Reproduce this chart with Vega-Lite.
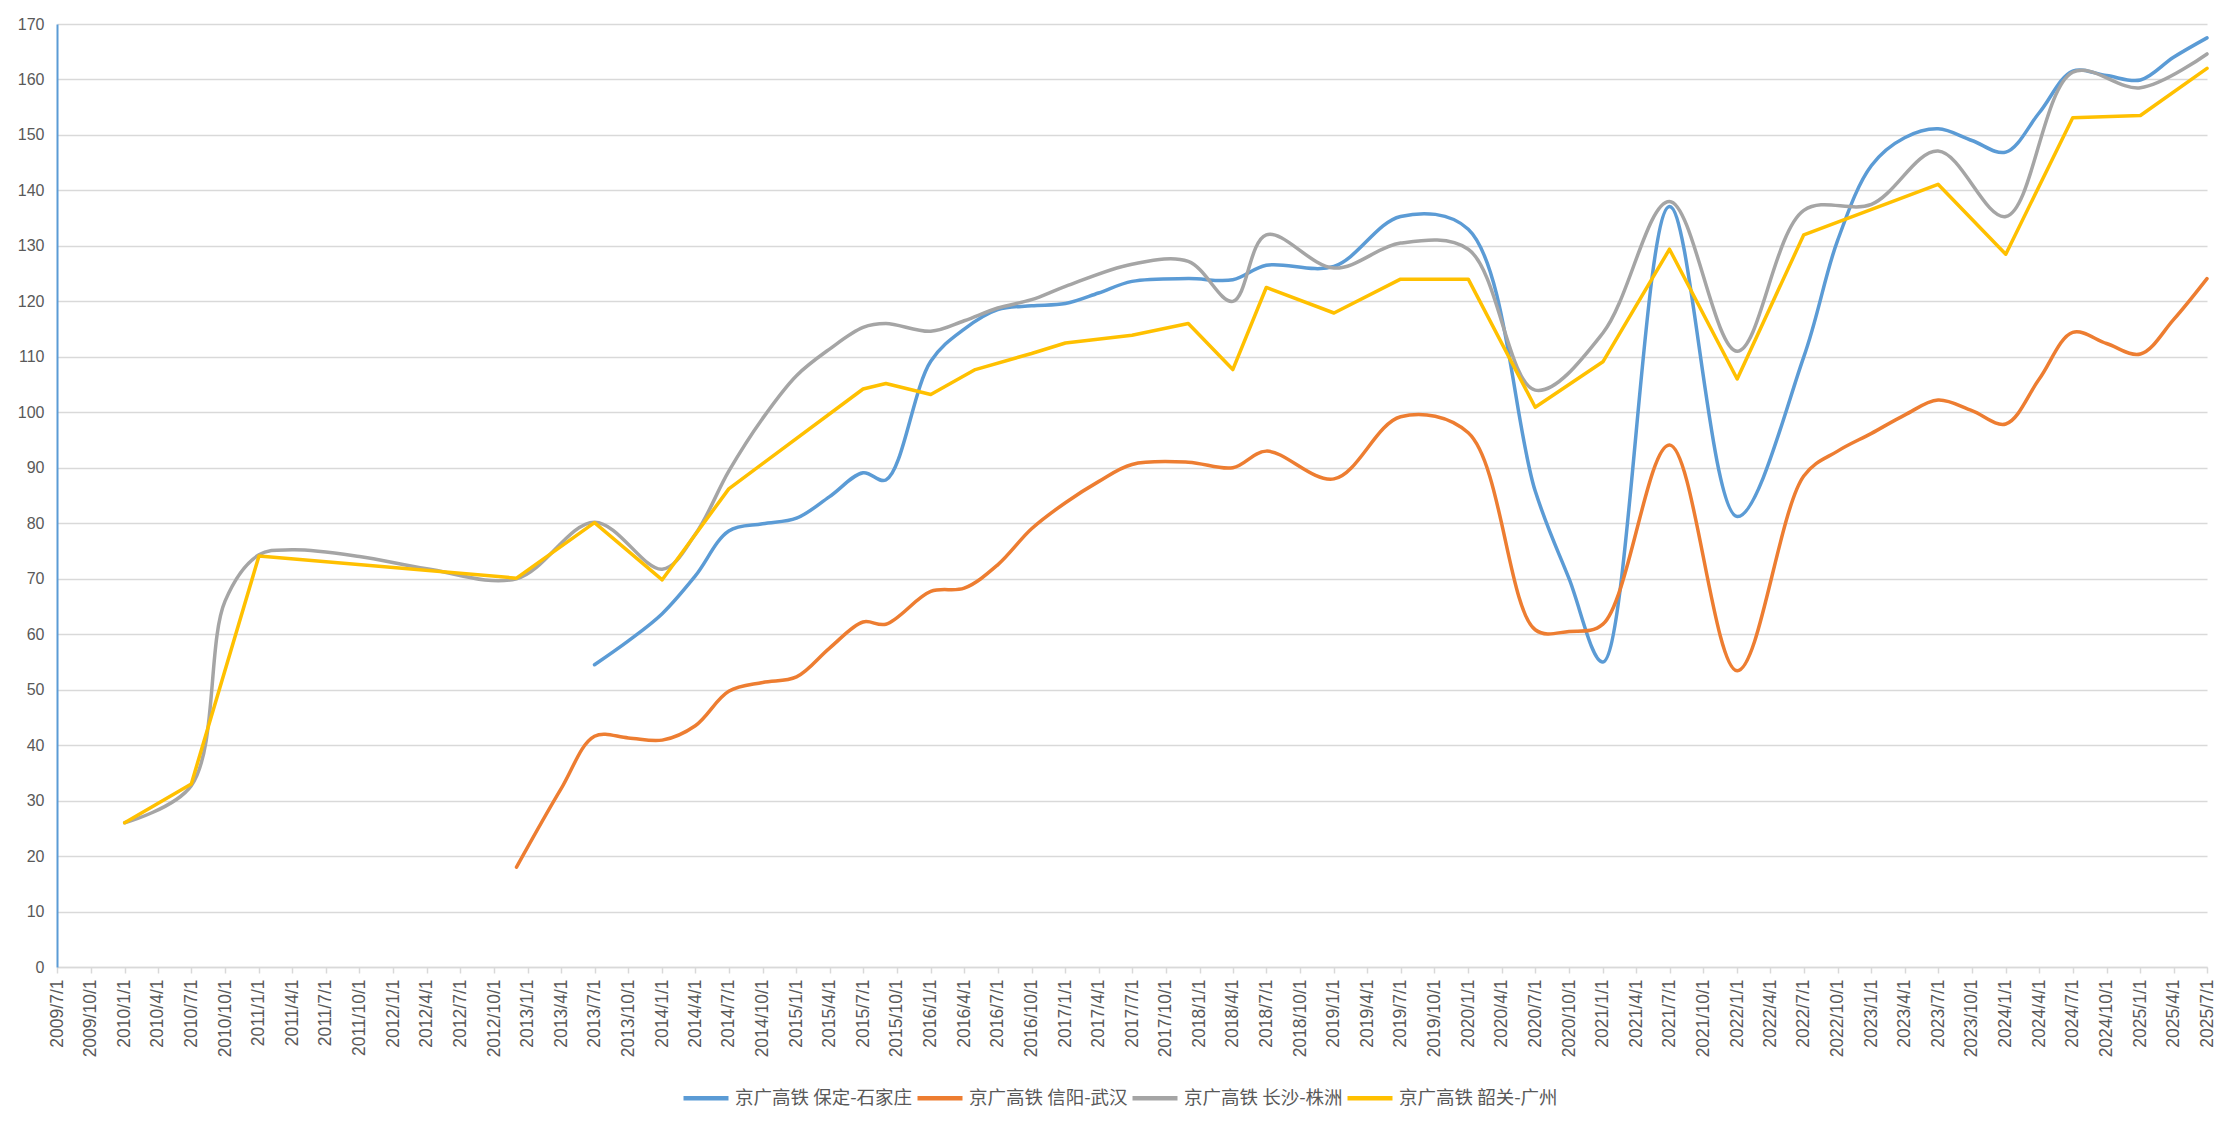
{
  "$schema": "https://vega.github.io/schema/vega-lite/v6.json",
  "width": 2150,
  "height": 943,
  "autosize": {"type": "none"},
  "padding": {"left": 57, "top": 24, "right": 29, "bottom": 162},
  "background": "white",
  "config": {"view": {"stroke": null}, "font": "Liberation Sans"},
  "data": {"values": [
    {"s": "京广高铁 保定-石家庄", "d": "2013/7/1", "v": 54.5},
    {"s": "京广高铁 保定-石家庄", "d": "2013/10/1", "v": 58.8},
    {"s": "京广高铁 保定-石家庄", "d": "2014/1/1", "v": 63.7},
    {"s": "京广高铁 保定-石家庄", "d": "2014/4/1", "v": 70.5},
    {"s": "京广高铁 保定-石家庄", "d": "2014/7/1", "v": 78.6},
    {"s": "京广高铁 保定-石家庄", "d": "2014/10/1", "v": 79.9},
    {"s": "京广高铁 保定-石家庄", "d": "2015/1/1", "v": 80.9},
    {"s": "京广高铁 保定-石家庄", "d": "2015/4/1", "v": 84.8},
    {"s": "京广高铁 保定-石家庄", "d": "2015/7/1", "v": 89.1},
    {"s": "京广高铁 保定-石家庄", "d": "2015/9/1", "v": 87.8},
    {"s": "京广高铁 保定-石家庄", "d": "2016/1/1", "v": 109.2},
    {"s": "京广高铁 保定-石家庄", "d": "2016/4/1", "v": 115.0},
    {"s": "京广高铁 保定-石家庄", "d": "2016/7/1", "v": 118.5},
    {"s": "京广高铁 保定-石家庄", "d": "2016/10/1", "v": 119.2},
    {"s": "京广高铁 保定-石家庄", "d": "2017/1/1", "v": 119.6},
    {"s": "京广高铁 保定-石家庄", "d": "2017/4/1", "v": 121.5},
    {"s": "京广高铁 保定-石家庄", "d": "2017/7/1", "v": 123.6},
    {"s": "京广高铁 保定-石家庄", "d": "2017/12/1", "v": 124.1},
    {"s": "京广高铁 保定-石家庄", "d": "2018/4/1", "v": 123.9},
    {"s": "京广高铁 保定-石家庄", "d": "2018/7/1", "v": 126.5},
    {"s": "京广高铁 保定-石家庄", "d": "2019/1/1", "v": 126.3},
    {"s": "京广高铁 保定-石家庄", "d": "2019/7/1", "v": 135.3},
    {"s": "京广高铁 保定-石家庄", "d": "2020/1/1", "v": 133.0},
    {"s": "京广高铁 保定-石家庄", "d": "2020/7/1", "v": 85.8},
    {"s": "京广高铁 保定-石家庄", "d": "2020/10/1", "v": 70.0},
    {"s": "京广高铁 保定-石家庄", "d": "2021/1/1", "v": 55.0},
    {"s": "京广高铁 保定-石家庄", "d": "2021/7/1", "v": 137.1},
    {"s": "京广高铁 保定-石家庄", "d": "2022/1/1", "v": 81.2},
    {"s": "京广高铁 保定-石家庄", "d": "2022/7/1", "v": 110.0},
    {"s": "京广高铁 保定-石家庄", "d": "2022/10/1", "v": 131.0},
    {"s": "京广高铁 保定-石家庄", "d": "2023/1/1", "v": 144.5},
    {"s": "京广高铁 保定-石家庄", "d": "2023/4/1", "v": 149.5},
    {"s": "京广高铁 保定-石家庄", "d": "2023/7/1", "v": 151.1},
    {"s": "京广高铁 保定-石家庄", "d": "2023/10/1", "v": 149.0},
    {"s": "京广高铁 保定-石家庄", "d": "2024/1/1", "v": 146.9},
    {"s": "京广高铁 保定-石家庄", "d": "2024/4/1", "v": 154.0},
    {"s": "京广高铁 保定-石家庄", "d": "2024/7/1", "v": 161.5},
    {"s": "京广高铁 保定-石家庄", "d": "2024/10/1", "v": 160.7},
    {"s": "京广高铁 保定-石家庄", "d": "2025/1/1", "v": 159.9},
    {"s": "京广高铁 保定-石家庄", "d": "2025/4/1", "v": 164.0},
    {"s": "京广高铁 保定-石家庄", "d": "2025/7/1", "v": 167.5},

    {"s": "京广高铁 信阳-武汉", "d": "2012/12/1", "v": 18.0},
    {"s": "京广高铁 信阳-武汉", "d": "2013/4/1", "v": 32.1},
    {"s": "京广高铁 信阳-武汉", "d": "2013/7/1", "v": 41.6},
    {"s": "京广高铁 信阳-武汉", "d": "2013/10/1", "v": 41.3},
    {"s": "京广高铁 信阳-武汉", "d": "2014/1/1", "v": 40.9},
    {"s": "京广高铁 信阳-武汉", "d": "2014/4/1", "v": 43.5},
    {"s": "京广高铁 信阳-武汉", "d": "2014/7/1", "v": 49.7},
    {"s": "京广高铁 信阳-武汉", "d": "2014/10/1", "v": 51.3},
    {"s": "京广高铁 信阳-武汉", "d": "2015/1/1", "v": 52.3},
    {"s": "京广高铁 信阳-武汉", "d": "2015/4/1", "v": 57.5},
    {"s": "京广高铁 信阳-武汉", "d": "2015/7/1", "v": 62.2},
    {"s": "京广高铁 信阳-武汉", "d": "2015/9/1", "v": 61.8},
    {"s": "京广高铁 信阳-武汉", "d": "2016/1/1", "v": 67.7},
    {"s": "京广高铁 信阳-武汉", "d": "2016/4/1", "v": 68.3},
    {"s": "京广高铁 信阳-武汉", "d": "2016/7/1", "v": 72.5},
    {"s": "京广高铁 信阳-武汉", "d": "2016/10/1", "v": 79.0},
    {"s": "京广高铁 信阳-武汉", "d": "2017/1/1", "v": 83.7},
    {"s": "京广高铁 信阳-武汉", "d": "2017/4/1", "v": 87.5},
    {"s": "京广高铁 信阳-武汉", "d": "2017/7/1", "v": 90.6},
    {"s": "京广高铁 信阳-武汉", "d": "2017/12/1", "v": 91.0},
    {"s": "京广高铁 信阳-武汉", "d": "2018/4/1", "v": 90.0},
    {"s": "京广高铁 信阳-武汉", "d": "2018/7/1", "v": 93.0},
    {"s": "京广高铁 信阳-武汉", "d": "2019/1/1", "v": 88.0},
    {"s": "京广高铁 信阳-武汉", "d": "2019/7/1", "v": 99.2},
    {"s": "京广高铁 信阳-武汉", "d": "2020/1/1", "v": 96.3},
    {"s": "京广高铁 信阳-武汉", "d": "2020/7/1", "v": 60.8},
    {"s": "京广高铁 信阳-武汉", "d": "2020/10/1", "v": 60.5},
    {"s": "京广高铁 信阳-武汉", "d": "2021/1/1", "v": 61.8},
    {"s": "京广高铁 信阳-武汉", "d": "2021/7/1", "v": 94.1},
    {"s": "京广高铁 信阳-武汉", "d": "2022/1/1", "v": 53.4},
    {"s": "京广高铁 信阳-武汉", "d": "2022/7/1", "v": 88.5},
    {"s": "京广高铁 信阳-武汉", "d": "2022/10/1", "v": 93.0},
    {"s": "京广高铁 信阳-武汉", "d": "2023/1/1", "v": 96.2},
    {"s": "京广高铁 信阳-武汉", "d": "2023/4/1", "v": 99.5},
    {"s": "京广高铁 信阳-武汉", "d": "2023/7/1", "v": 102.2},
    {"s": "京广高铁 信阳-武汉", "d": "2023/10/1", "v": 100.3},
    {"s": "京广高铁 信阳-武汉", "d": "2024/1/1", "v": 97.9},
    {"s": "京广高铁 信阳-武汉", "d": "2024/4/1", "v": 106.0},
    {"s": "京广高铁 信阳-武汉", "d": "2024/7/1", "v": 114.4},
    {"s": "京广高铁 信阳-武汉", "d": "2024/10/1", "v": 112.4},
    {"s": "京广高铁 信阳-武汉", "d": "2025/1/1", "v": 110.5},
    {"s": "京广高铁 信阳-武汉", "d": "2025/4/1", "v": 116.7},
    {"s": "京广高铁 信阳-武汉", "d": "2025/7/1", "v": 124.1},

    {"s": "京广高铁 长沙-株洲", "d": "2010/1/1", "v": 26.0},
    {"s": "京广高铁 长沙-株洲", "d": "2010/7/1", "v": 32.7},
    {"s": "京广高铁 长沙-株洲", "d": "2010/10/1", "v": 66.0},
    {"s": "京广高铁 长沙-株洲", "d": "2011/1/1", "v": 74.3},
    {"s": "京广高铁 长沙-株洲", "d": "2011/4/1", "v": 75.2},
    {"s": "京广高铁 长沙-株洲", "d": "2011/10/1", "v": 74.0},
    {"s": "京广高铁 长沙-株洲", "d": "2012/4/1", "v": 71.8},
    {"s": "京广高铁 长沙-株洲", "d": "2012/12/1", "v": 70.0},
    {"s": "京广高铁 长沙-株洲", "d": "2013/7/1", "v": 80.2},
    {"s": "京广高铁 长沙-株洲", "d": "2014/1/1", "v": 71.7},
    {"s": "京广高铁 长沙-株洲", "d": "2014/4/1", "v": 78.0},
    {"s": "京广高铁 长沙-株洲", "d": "2014/7/1", "v": 89.4},
    {"s": "京广高铁 长沙-株洲", "d": "2014/10/1", "v": 98.9},
    {"s": "京广高铁 长沙-株洲", "d": "2015/1/1", "v": 106.6},
    {"s": "京广高铁 长沙-株洲", "d": "2015/4/1", "v": 111.4},
    {"s": "京广高铁 长沙-株洲", "d": "2015/7/1", "v": 115.3},
    {"s": "京广高铁 长沙-株洲", "d": "2015/9/1", "v": 116.0},
    {"s": "京广高铁 长沙-株洲", "d": "2016/1/1", "v": 114.6},
    {"s": "京广高铁 长沙-株洲", "d": "2016/4/1", "v": 116.5},
    {"s": "京广高铁 长沙-株洲", "d": "2016/7/1", "v": 118.8},
    {"s": "京广高铁 长沙-株洲", "d": "2016/10/1", "v": 120.3},
    {"s": "京广高铁 长沙-株洲", "d": "2017/1/1", "v": 122.7},
    {"s": "京广高铁 长沙-株洲", "d": "2017/7/1", "v": 126.7},
    {"s": "京广高铁 长沙-株洲", "d": "2017/12/1", "v": 127.2},
    {"s": "京广高铁 长沙-株洲", "d": "2018/4/1", "v": 120.0},
    {"s": "京广高铁 长沙-株洲", "d": "2018/7/1", "v": 132.0},
    {"s": "京广高铁 长沙-株洲", "d": "2019/1/1", "v": 126.0},
    {"s": "京广高铁 长沙-株洲", "d": "2019/7/1", "v": 130.5},
    {"s": "京广高铁 长沙-株洲", "d": "2020/1/1", "v": 129.4},
    {"s": "京广高铁 长沙-株洲", "d": "2020/7/1", "v": 104.0},
    {"s": "京广高铁 长沙-株洲", "d": "2021/1/1", "v": 114.3},
    {"s": "京广高铁 长沙-株洲", "d": "2021/7/1", "v": 138.0},
    {"s": "京广高铁 长沙-株洲", "d": "2022/1/1", "v": 111.0},
    {"s": "京广高铁 长沙-株洲", "d": "2022/7/1", "v": 136.4},
    {"s": "京广高铁 长沙-株洲", "d": "2023/1/1", "v": 137.5},
    {"s": "京广高铁 长沙-株洲", "d": "2023/7/1", "v": 147.1},
    {"s": "京广高铁 长沙-株洲", "d": "2024/1/1", "v": 135.3},
    {"s": "京广高铁 长沙-株洲", "d": "2024/7/1", "v": 161.3},
    {"s": "京广高铁 长沙-株洲", "d": "2025/1/1", "v": 158.5},
    {"s": "京广高铁 长沙-株洲", "d": "2025/7/1", "v": 164.6},

    {"s": "京广高铁 韶关-广州", "d": "2010/1/1", "v": 26.0},
    {"s": "京广高铁 韶关-广州", "d": "2010/7/1", "v": 33.0},
    {"s": "京广高铁 韶关-广州", "d": "2011/1/1", "v": 74.1},
    {"s": "京广高铁 韶关-广州", "d": "2012/12/1", "v": 70.1},
    {"s": "京广高铁 韶关-广州", "d": "2013/7/1", "v": 80.1},
    {"s": "京广高铁 韶关-广州", "d": "2014/1/1", "v": 69.8},
    {"s": "京广高铁 韶关-广州", "d": "2014/7/1", "v": 86.2},
    {"s": "京广高铁 韶关-广州", "d": "2015/7/1", "v": 104.2},
    {"s": "京广高铁 韶关-广州", "d": "2015/9/1", "v": 105.2},
    {"s": "京广高铁 韶关-广州", "d": "2016/1/1", "v": 103.2},
    {"s": "京广高铁 韶关-广州", "d": "2016/5/1", "v": 107.7},
    {"s": "京广高铁 韶关-广州", "d": "2016/10/1", "v": 110.6},
    {"s": "京广高铁 韶关-广州", "d": "2017/1/1", "v": 112.5},
    {"s": "京广高铁 韶关-广州", "d": "2017/7/1", "v": 113.9},
    {"s": "京广高铁 韶关-广州", "d": "2017/12/1", "v": 116.0},
    {"s": "京广高铁 韶关-广州", "d": "2018/4/1", "v": 107.7},
    {"s": "京广高铁 韶关-广州", "d": "2018/7/1", "v": 122.5},
    {"s": "京广高铁 韶关-广州", "d": "2019/1/1", "v": 117.9},
    {"s": "京广高铁 韶关-广州", "d": "2019/7/1", "v": 124.0},
    {"s": "京广高铁 韶关-广州", "d": "2020/1/1", "v": 124.0},
    {"s": "京广高铁 韶关-广州", "d": "2020/7/1", "v": 100.9},
    {"s": "京广高铁 韶关-广州", "d": "2021/1/1", "v": 109.1},
    {"s": "京广高铁 韶关-广州", "d": "2021/7/1", "v": 129.4},
    {"s": "京广高铁 韶关-广州", "d": "2022/1/1", "v": 106.0},
    {"s": "京广高铁 韶关-广州", "d": "2022/7/1", "v": 132.0},
    {"s": "京广高铁 韶关-广州", "d": "2023/7/1", "v": 141.1},
    {"s": "京广高铁 韶关-广州", "d": "2024/1/1", "v": 128.5},
    {"s": "京广高铁 韶关-广州", "d": "2024/7/1", "v": 153.1},
    {"s": "京广高铁 韶关-广州", "d": "2025/1/1", "v": 153.5},
    {"s": "京广高铁 韶关-广州", "d": "2025/7/1", "v": 162.0}
  ]},
  "encoding": {
    "x": {
      "field": "d", "type": "temporal",
      "scale": {"domain": [{"year": 2009, "month": 7, "date": 1}, {"year": 2025, "month": 7, "date": 1}]},
      "axis": {
        "title": null, "format": "%Y/%-m/%-d", "tickCount": {"interval": "month", "step": 3},
        "labelAngle": 270, "labelAlign": "right", "labelBaseline": "middle",
        "labelFont": "Liberation Sans", "labelFontSize": 17.5, "labelColor": "#595959",
        "labelPadding": 6, "labelOverlap": false, "labelFlush": false, "labelBound": false,
        "ticks": true, "tickSize": 6, "tickColor": "#d9d9d9", "tickWidth": 1.5,
        "domainColor": "#d9d9d9", "domainWidth": 1.5, "grid": false
      }
    },
    "y": {
      "field": "v", "type": "quantitative",
      "scale": {"domain": [0, 170], "nice": false},
      "axis": {
        "title": null, "values": [0, 10, 20, 30, 40, 50, 60, 70, 80, 90, 100, 110, 120, 130, 140, 150, 160, 170],
        "labelFont": "Liberation Sans", "labelFontSize": 16, "labelColor": "#595959", "labelPadding": 13,
        "ticks": false, "domainColor": "#5b9bd5", "domainWidth": 2,
        "grid": true, "gridColor": "#d9d9d9", "gridWidth": 1.5
      }
    },
    "color": {
      "field": "s", "type": "nominal",
      "scale": {
        "domain": ["京广高铁 保定-石家庄", "京广高铁 信阳-武汉", "京广高铁 长沙-株洲", "京广高铁 韶关-广州"],
        "range": ["#5b9bd5", "#ed7d31", "#a5a5a5", "#ffc000"]
      },
      "legend": {
        "orient": "none", "legendX": 624, "legendY": 1049, "direction": "horizontal", "title": null,
        "padding": 0,
        "symbolType": "stroke", "symbolStrokeWidth": 4.5, "symbolSize": 2025,
        "labelFont": "Noto Sans CJK SC", "labelFontSize": 18.5, "labelColor": "#595959", "labelLimit": 400,
        "labelOffset": 4, "columnPadding": -5
      }
    }
  },
  "layer": [
    {
      "transform": [{"filter": "datum.s !== '京广高铁 韶关-广州'"}],
      "mark": {"type": "line", "interpolate": "catmull-rom", "strokeWidth": 3.5, "strokeCap": "round", "strokeJoin": "round"}
    },
    {
      "transform": [{"filter": "datum.s === '京广高铁 韶关-广州'"}],
      "mark": {"type": "line", "strokeWidth": 3.5, "strokeCap": "round", "strokeJoin": "round"}
    }
  ]
}
